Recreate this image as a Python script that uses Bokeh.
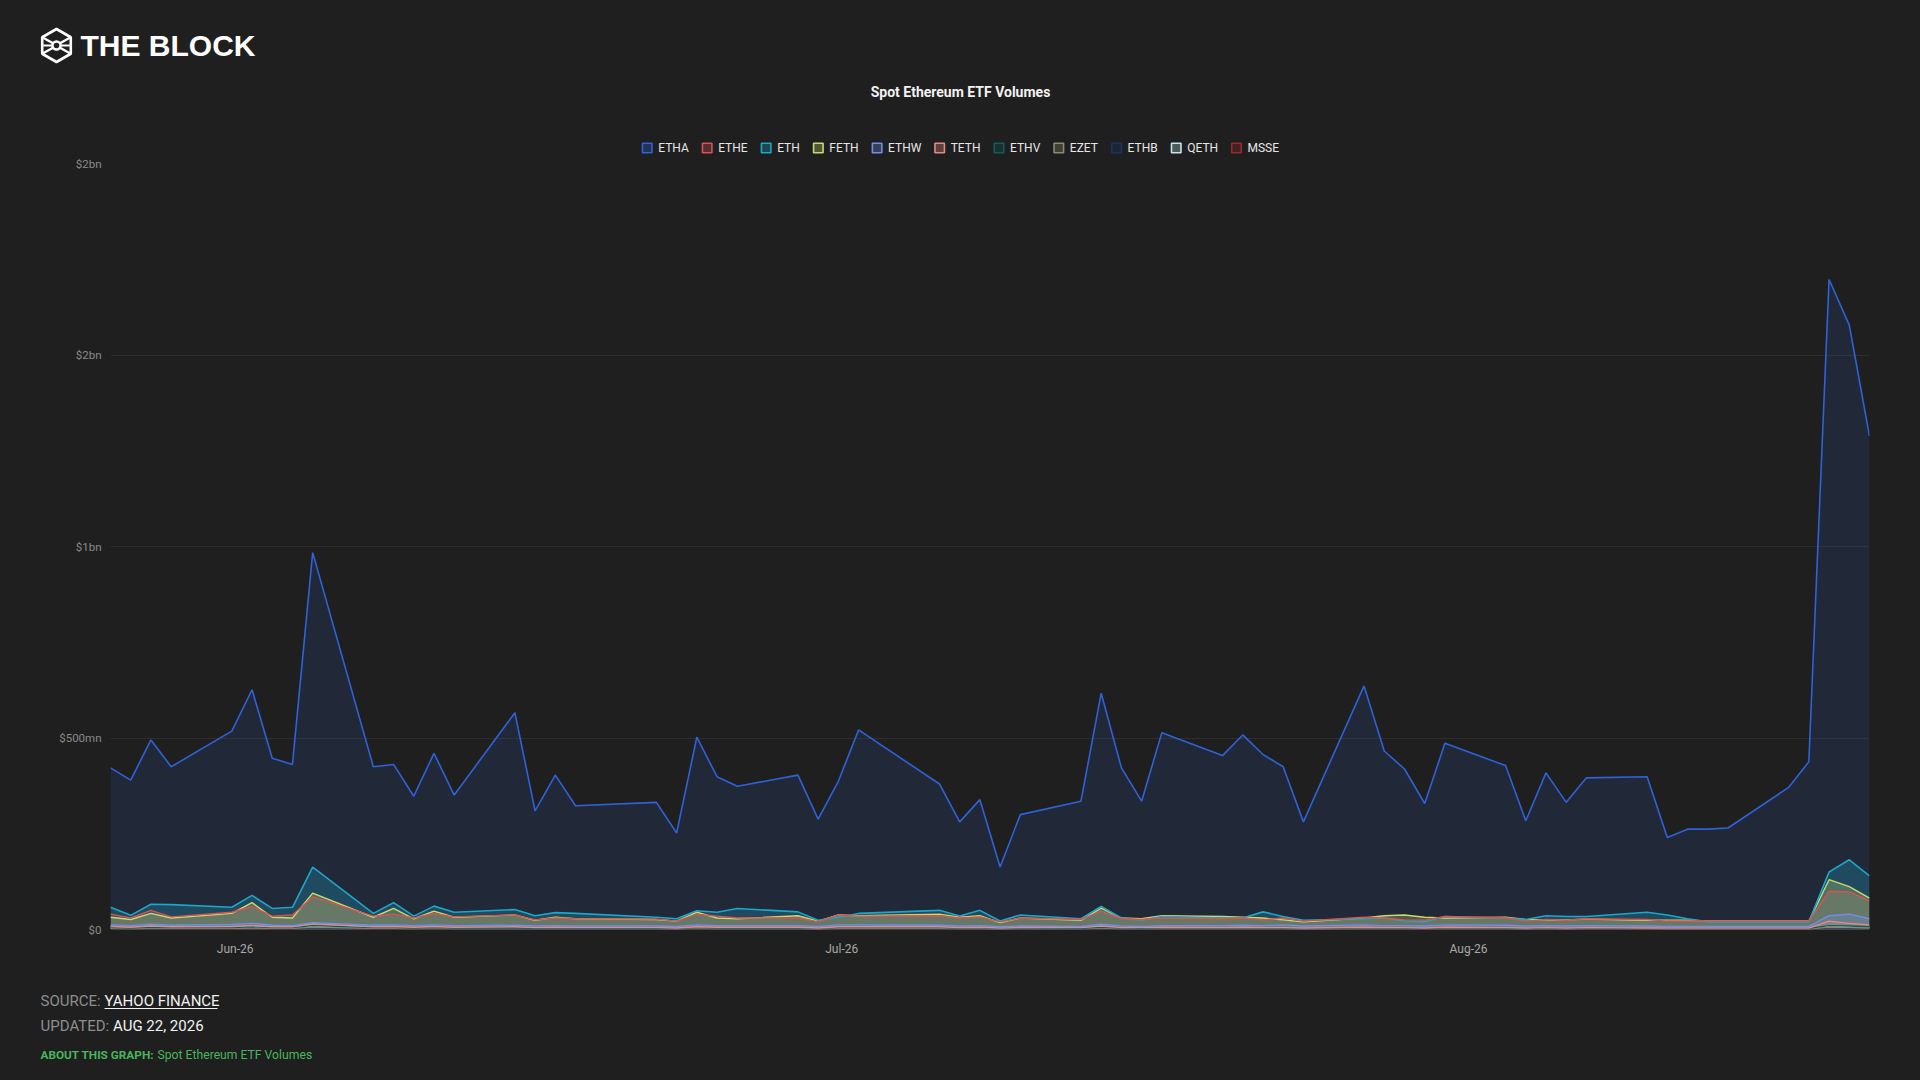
import pandas as pd
from bokeh.plotting import figure
from bokeh.layouts import column
from bokeh.models import Range1d, FixedTicker, DatetimeTickFormatter
from bokeh.core.properties import value
from bokeh.embed import file_html
from bokeh.resources import INLINE

# ---------------- data (USD millions, daily trading volume) ----------------
dates = [
    "2026-05-26", "2026-05-27", "2026-05-28", "2026-05-29",
    "2026-06-01", "2026-06-02", "2026-06-03", "2026-06-04", "2026-06-05",
    "2026-06-08", "2026-06-09", "2026-06-10", "2026-06-11", "2026-06-12",
    "2026-06-15", "2026-06-16", "2026-06-17", "2026-06-18",
    "2026-06-22", "2026-06-23", "2026-06-24", "2026-06-25", "2026-06-26",
    "2026-06-29", "2026-06-30",
    "2026-07-01", "2026-07-02",
    "2026-07-06", "2026-07-07", "2026-07-08", "2026-07-09", "2026-07-10",
    "2026-07-13", "2026-07-14", "2026-07-15", "2026-07-16", "2026-07-17",
    "2026-07-20", "2026-07-21", "2026-07-22", "2026-07-23", "2026-07-24",
    "2026-07-27", "2026-07-28", "2026-07-29", "2026-07-30", "2026-07-31",
    "2026-08-03", "2026-08-04", "2026-08-05", "2026-08-06", "2026-08-07",
    "2026-08-10", "2026-08-11", "2026-08-12", "2026-08-13", "2026-08-14",
    "2026-08-17", "2026-08-18", "2026-08-19", "2026-08-20", "2026-08-21",
]

ETHA = [422, 390, 495, 425, 518, 626, 447, 431, 984, 425, 431, 348, 460, 351,
        566, 310, 403, 323, 332, 252, 502, 399, 374, 403, 288, 387, 521,
        380, 281, 339, 163, 300, 335, 617, 422, 335, 514, 454, 508, 457, 425, 281,
        636, 466, 419, 329, 486, 428, 284, 409, 332, 396, 399, 240, 262, 262, 265,
        371, 438, 1697, 1578, 1288]
ETHE = [40, 30, 50, 33, 45, 60, 35, 38, 85, 35, 40, 30, 42, 33,
        38, 25, 30, 28, 27, 22, 40, 35, 30, 30, 20, 38, 35,
        36, 30, 33, 20, 30, 26, 48, 28, 26, 30, 28, 30, 25, 30, 22,
        32, 30, 25, 24, 34, 30, 22, 26, 24, 28, 26, 22, 22, 22, 22,
        22, 22, 100, 98, 75]
ETH = [58, 37, 66, 65, 58, 89, 55, 58, 163, 42, 70, 35, 61, 45,
       52, 36, 44, 42, 32, 28, 49, 45, 55, 46, 24, 32, 42,
       50, 35, 50, 22, 38, 28, 60, 30, 24, 34, 30, 30, 46, 34, 24,
       28, 30, 22, 20, 34, 30, 26, 36, 34, 34, 45, 38, 28, 20, 20,
       20, 20, 150, 182, 140]
FETH = [32, 26, 42, 30, 42, 70, 32, 30, 95, 32, 55, 28, 48, 32,
        38, 24, 32, 28, 26, 22, 45, 30, 28, 36, 22, 38, 36,
        40, 32, 36, 18, 30, 24, 56, 30, 28, 36, 34, 32, 30, 25, 20,
        30, 36, 38, 32, 30, 32, 26, 25, 25, 27, 24, 24, 24, 22, 22,
        22, 22, 130, 112, 82]
ETHW = [12, 10, 14, 11, 13, 16, 11, 10, 18, 11, 12, 10, 12, 10,
        11, 9, 10, 9, 9, 8, 12, 10, 10, 10, 8, 12, 12,
        11, 9, 10, 7, 9, 8, 14, 9, 8, 10, 10, 11, 10, 12, 9,
        12, 10, 10, 9, 12, 11, 9, 10, 9, 10, 9, 8, 8, 8, 8,
        8, 8, 36, 40, 28]
TETH = [8, 6, 9, 7, 8, 10, 7, 7, 15, 7, 8, 6, 8, 6,
        7, 5, 6, 5, 5, 4, 7, 6, 6, 6, 4, 7, 7,
        7, 5, 6, 4, 5, 5, 9, 5, 5, 6, 5, 6, 5, 5, 4,
        6, 5, 5, 4, 6, 5, 4, 5, 4, 5, 4, 4, 4, 4, 4,
        4, 4, 22, 16, 12]
ETHV = [5, 4, 6, 5, 5, 7, 5, 5, 10, 5, 5, 4, 5, 4,
        4, 3, 4, 3, 3, 3, 5, 4, 4, 4, 3, 5, 5,
        5, 4, 4, 3, 4, 3, 6, 4, 3, 4, 4, 4, 4, 4, 3,
        4, 4, 4, 3, 4, 4, 3, 4, 3, 4, 3, 3, 3, 3, 3,
        3, 3, 10, 9, 7]
EZET = [3, 2, 3, 3, 3, 4, 3, 3, 6, 3, 3, 2, 3, 2,
        2, 2, 2, 2, 2, 2, 3, 2, 2, 2, 2, 3, 3,
        3, 2, 2, 2, 2, 2, 4, 2, 2, 2, 2, 2, 2, 2, 2,
        2, 2, 2, 2, 2, 2, 2, 2, 2, 2, 2, 2, 2, 2, 2,
        2, 2, 6, 5, 4]
ETHB = [2, 1, 2, 2, 2, 3, 2, 2, 4, 2, 2, 1, 2, 1,
        1, 1, 1, 1, 1, 1, 2, 1, 1, 1, 1, 2, 2,
        2, 1, 1, 1, 1, 1, 2, 1, 1, 1, 1, 1, 1, 1, 1,
        1, 1, 1, 1, 1, 1, 1, 1, 1, 1, 1, 1, 1, 1, 1,
        1, 1, 4, 3, 2]
QETH = [4, 3, 5, 4, 4, 6, 4, 4, 8, 4, 4, 3, 4, 3,
        3, 3, 3, 3, 3, 2, 4, 3, 3, 3, 2, 4, 4,
        4, 3, 3, 2, 3, 3, 5, 3, 3, 3, 3, 3, 3, 3, 2,
        3, 3, 3, 3, 3, 3, 2, 3, 2, 3, 3, 2, 2, 2, 2,
        2, 2, 8, 7, 5]
MSSE = [1, 1, 1, 1, 1, 2, 1, 1, 3, 1, 1, 1, 1, 1,
        1, 1, 1, 1, 1, 1, 1, 1, 1, 1, 1, 1, 1,
        1, 1, 1, 1, 1, 1, 2, 1, 1, 1, 1, 1, 1, 1, 1,
        1, 1, 1, 1, 1, 1, 1, 1, 1, 1, 1, 1, 1, 1, 1,
        1, 1, 3, 2, 2]

series_names = ["ETHA", "ETHE", "ETH", "FETH", "ETHW", "TETH", "ETHV", "EZET", "ETHB", "QETH", "MSSE"]
series_values = [ETHA, ETHE, ETH, FETH, ETHW, TETH, ETHV, EZET, ETHB, QETH, MSSE]
series_colors = ["#2e62d9", "#d9534f", "#1ca6c9", "#c8da6e", "#6f8fe8", "#e48a85",
                 "#0f5e5a", "#8c8a6c", "#1b3466", "#bfe6ee", "#9b2a2a"]

y_ticks = [0, 500, 1000, 1500, 2000]
y_tick_labels = ["$0", "$500mn", "$1bn", "$2bn", "$2bn"]
x_tick_dates = ["2026-06-01 04:00", "2026-07-01 04:00", "2026-08-01 04:00"]
x_tick_labels = ["Jun-26", "Jul-26", "Aug-26"]

TITLE = "Spot Ethereum ETF Volumes"

# ---------------- styling ----------------
BG = "#1f1f1f"
FONT = "Roboto"
W = 1920
HEAD_H, MAIN_H, FOOT_H = 155, 815, 110

x = pd.to_datetime(dates)


def blank(height):
    f = figure(width=W, height=height, x_range=Range1d(0, W), y_range=Range1d(height, 0),
               output_backend="svg", toolbar_location=None, frame_align=False,
               min_border=0, min_border_left=0, min_border_right=0,
               min_border_top=0, min_border_bottom=0)
    f.axis.visible = False
    f.grid.visible = False
    f.outline_line_color = None
    f.background_fill_color = BG
    f.border_fill_color = BG
    return f


# ---------------- header: logo, title, legend ----------------
head = blank(HEAD_H)

cx, cy, r = 56.0, 45.0, 16.5
hx = [cx, cx + 0.866 * r, cx + 0.866 * r, cx, cx - 0.866 * r, cx - 0.866 * r]
hy = [cy - r, cy - r / 2, cy + r / 2, cy + r, cy + r / 2, cy - r / 2]
head.patch(hx + [hx[0]], hy + [hy[0]], fill_color=None, line_color="white", line_width=2.6)
head.segment(x0=[hx[5], hx[1], hx[4], hx[2]], y0=[hy[5], hy[1], hy[4], hy[2]],
             x1=[cx - 3, cx + 3, cx - 3, cx + 3], y1=[cy - 2, cy - 2, cy + 2, cy + 2],
             line_color="white", line_width=2.4)
head.segment(x0=[hx[5] + 1], y0=[cy], x1=[hx[1] - 1], y1=[cy], line_color="white", line_width=2.2)
head.scatter([cx], [cy], size=8, marker="circle", fill_color=BG, line_color="white", line_width=2.4)
head.text(x=[80], y=[45], text=["THE BLOCK"], text_font=value("Liberation Sans"),
          text_font_style="bold", text_font_size="30px", text_color="white",
          text_baseline="middle", text_align="left")

head.text(x=[W / 2], y=[91], text=[TITLE], text_font=value(FONT), text_font_style="bold",
          text_font_size="14px", text_color="#f2f2f2", text_align="center", text_baseline="middle")

# legend (custom, centred)
em = {"A": 0.652, "B": 0.623, "E": 0.569, "F": 0.553, "H": 0.697, "M": 0.853, "Q": 0.673,
      "S": 0.594, "T": 0.597, "V": 0.637, "W": 0.868, "Z": 0.599}
LF = 12.0
widths = [sum(em.get(c, 0.6) for c in n) * LF for n in series_names]
GAP = 29.8
total = sum(w + GAP for w in widths[:-1]) + 16 + widths[-1]
pos = W / 2 - total / 2 + 5
centres = []
for w in widths:
    centres.append(pos)
    pos += w + GAP
LY = 147.5
head.rect(x=centres, y=[LY] * len(centres), width=9.5, height=9.5,
          fill_color=series_colors, fill_alpha=0.3, line_color=series_colors, line_width=1.6)
head.text(x=[c + 11 for c in centres], y=[LY] * len(centres), text=series_names,
          text_font=value(FONT), text_font_size="12px", text_color="#e6e6e6",
          text_align="left", text_baseline="middle")

# ---------------- main chart ----------------
p = figure(width=W, height=MAIN_H, x_axis_type="datetime",
           x_range=Range1d(x[0], x[-1]), y_range=Range1d(0, 2000),
           output_backend="svg", toolbar_location=None, frame_align=False,
           min_border_left=110, min_border_right=51, min_border_top=8, min_border_bottom=41)
p.background_fill_color = BG
p.border_fill_color = BG
p.outline_line_color = None

for name, vals, col in list(zip(series_names, series_values, series_colors)):
    alpha = 0.13 if name == "ETHA" else 0.28
    p.varea(x=x, y1=0, y2=vals, fill_color=col, fill_alpha=alpha)
for name, vals, col in reversed(list(zip(series_names, series_values, series_colors))):
    p.line(x=x, y=vals, line_color=col, line_width=1.6 if name in ("ETHA", "ETH") else 1.4,
           line_alpha=1.0)

p.xgrid.visible = False
p.ygrid.grid_line_color = "#2d2d2d"
p.ygrid.grid_line_width = 1

p.yaxis.ticker = FixedTicker(ticks=y_ticks)
p.yaxis.major_label_overrides = {t: l for t, l in zip(y_ticks, y_tick_labels)}
x_ticks_ms = [pd.Timestamp(d).value / 1e6 for d in x_tick_dates]
p.xaxis.ticker = FixedTicker(ticks=x_ticks_ms)
p.xaxis.formatter = DatetimeTickFormatter(days="%b-%y", months="%b-%y", years="%b-%y",
                                          hours="%b-%y")
p.xaxis.major_label_overrides = {t: l for t, l in zip(x_ticks_ms, x_tick_labels)}

for ax in (p.xaxis, p.yaxis):
    ax.axis_line_color = None
    ax.major_tick_line_color = None
    ax.minor_tick_line_color = None
    ax.major_tick_out = 0
    ax.major_tick_in = 0
    ax.major_label_text_font = FONT
p.yaxis.major_label_text_font_size = "11.5px"
p.yaxis.major_label_text_color = "#8a8a8a"
p.yaxis.major_label_standoff = 9
p.xaxis.major_label_text_font_size = "12px"
p.xaxis.major_label_text_color = "#a8a8a8"
p.xaxis.major_label_standoff = 12

# ---------------- footer ----------------
foot = blank(FOOT_H)
foot.text(x=[40, 104], y=[30.5, 30.5], text=["SOURCE:", "YAHOO FINANCE"],
          text_color=["#8e8e8e", "#f2f2f2"], text_font=value(FONT), text_font_size="15px",
          text_baseline="middle", text_align="left")
foot.segment(x0=[104], y0=[38], x1=[217], y1=[38], line_color="#f2f2f2", line_width=1.2)
foot.text(x=[40, 112.5], y=[55, 55], text=["UPDATED:", "AUG 22, 2026"],
          text_color=["#8e8e8e", "#f2f2f2"], text_font=value(FONT), text_font_size="15px",
          text_baseline="middle", text_align="left")
foot.text(x=[40], y=[84.5], text=["ABOUT THIS GRAPH:"], text_color="#47b65b",
          text_font=value(FONT), text_font_style="bold", text_font_size="11.8px",
          text_baseline="middle", text_align="left")
foot.text(x=[157], y=[84.5], text=[TITLE], text_color="#47b65b",
          text_font=value(FONT), text_font_size="12.2px",
          text_baseline="middle", text_align="left")

layout = column(head, p, foot, spacing=0)

html = file_html(layout, INLINE, title=TITLE)
html = html.replace("<head>", "<head><style>html,body{margin:0;padding:0;background:#1f1f1f;overflow:hidden;}</style>", 1)
open("out.html", "w").write(html)
